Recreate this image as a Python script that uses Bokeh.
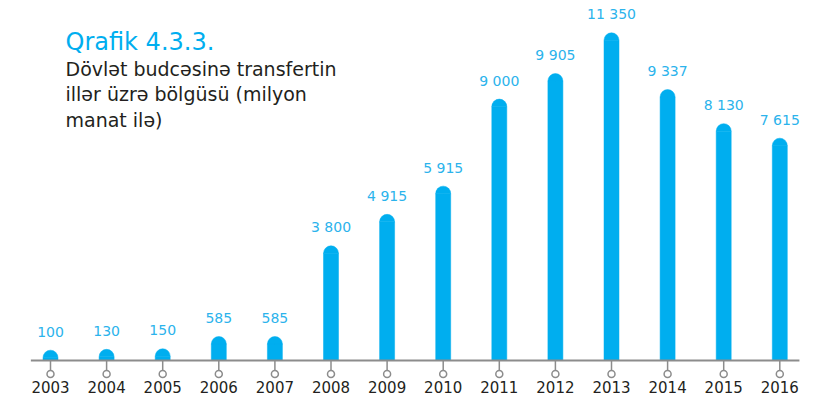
import numpy as np
from bokeh.plotting import figure
from bokeh.models import Range1d, Label
from bokeh.core.properties import value
from bokeh.embed import file_html
from bokeh.resources import INLINE

# ---- data ----
years = [2003, 2004, 2005, 2006, 2007, 2008, 2009, 2010, 2011, 2012, 2013, 2014, 2015, 2016]
values = [100, 130, 150, 585, 585, 3800, 4915, 5915, 9000, 9905, 11350, 9337, 8130, 7615]
value_labels = [f"{v:,}".replace(",", " ") for v in values]
year_labels = [str(y) for y in years]
title_text = "Qrafik 4.3.3."
subtitle_lines = ["Dövlət budcəsinə transfertin", "illər üzrə bölgüsü (milyon", "manat ilə)"]

# ---- style ----
BLUE = "#00AEEF"
LABEL_BLUE = "#2BB3EC"
GREY = "#8C8C8C"
DARK = "#231F20"
FONT = "DejaVu Sans"
W, H = 813, 396

x_range = Range1d(2002.1087, 2016.6007)
y_range = Range1d(-1276.1, 12761.4)
PX_Y = H / (y_range.end - y_range.start)      # pixels per value unit
PX_X = W / (x_range.end - x_range.start)      # pixels per year

p = figure(width=W, height=H, output_backend="svg", toolbar_location=None,
           x_range=x_range, y_range=y_range, x_axis_type=None, y_axis_type=None,
           min_border=0, min_border_left=0, min_border_right=0,
           min_border_top=0, min_border_bottom=0)
p.outline_line_color = None
p.background_fill_color = "white"
p.border_fill_color = "white"

bar_w = 15 / PX_X
p.vbar(x=years, bottom=0, top=values, width=bar_w, fill_color=BLUE, line_color=BLUE, line_width=0.5)
p.wedge(x=years, y=values, radius=bar_w / 2, start_angle=0, end_angle=np.pi,
        fill_color=BLUE, line_color=BLUE, line_width=0.5)

# baseline and ticks
p.segment(x0=[years[0] - 0.35], y0=[0], x1=[years[-1] + 0.35], y1=[0], line_color=GREY, line_width=2)
p.segment(x0=years, y0=[0] * len(years), x1=years, y1=[-9.5 / PX_Y] * len(years),
          line_color=GREY, line_width=1.5)
p.scatter(x=years, y=[-13.5 / PX_Y] * len(years), marker="circle", size=7,
          fill_color="white", line_color=GREY, line_width=1.5)

# labels
p.text(x=years, y=[0] * len(years), text=year_labels, text_align="center", text_baseline="alphabetic",
       y_offset=26.5, text_font=value(FONT), text_font_size="15px", text_color=DARK)
p.text(x=years, y=values, text=value_labels, text_align="center", text_baseline="alphabetic",
       y_offset=-26, text_font=value(FONT), text_font_size="14px", text_color=LABEL_BLUE)

p.add_layout(Label(x=65, y=H - 41.5, x_units="screen", y_units="screen", text=title_text,
                   text_font=FONT, text_font_size="24px", text_color=BLUE, text_baseline="alphabetic"))
for i, line in enumerate(subtitle_lines):
    p.add_layout(Label(x=65, y=H - (68 + 25.5 * i), x_units="screen", y_units="screen", text=line,
                       text_font=FONT, text_font_size="19px", text_color=DARK, text_baseline="alphabetic"))

open("out.html", "w").write(file_html(p, INLINE))
